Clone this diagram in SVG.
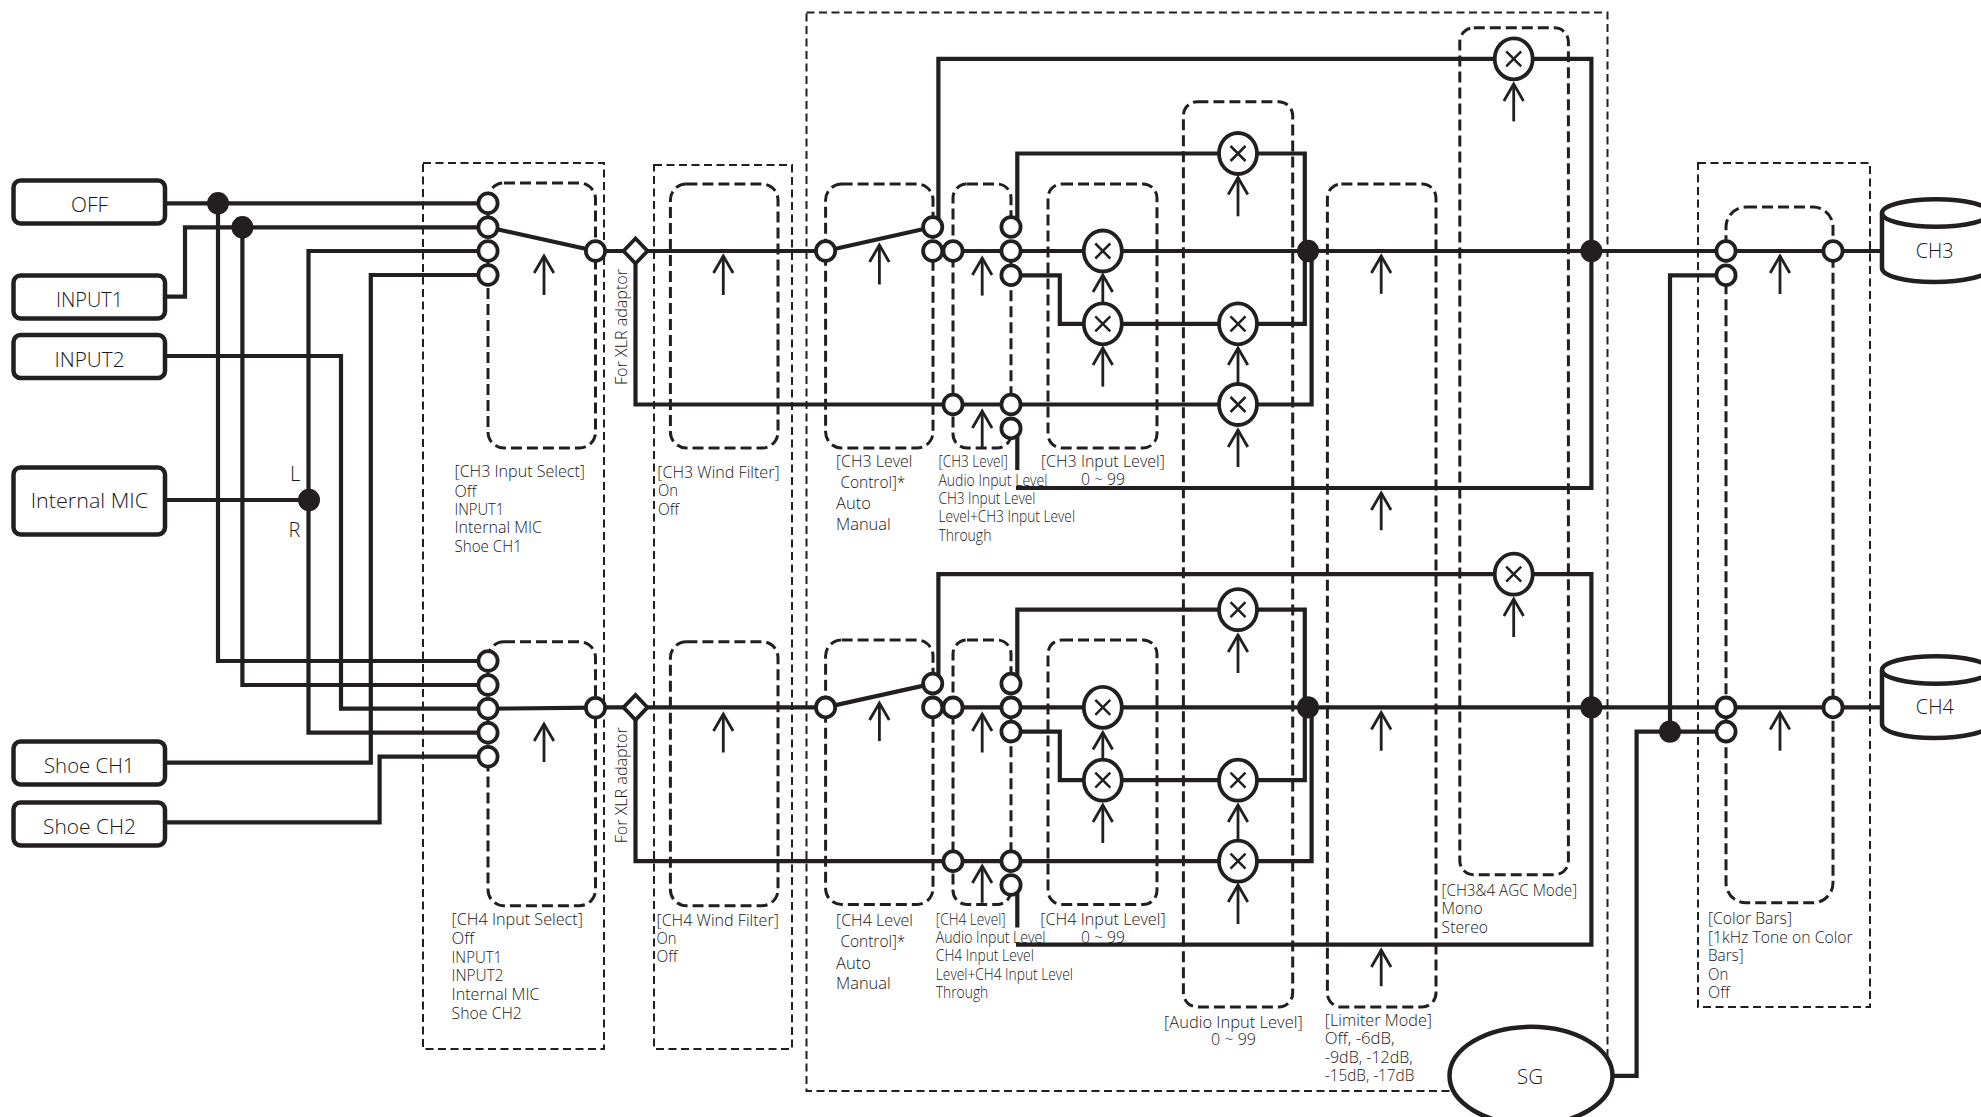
<svg xmlns="http://www.w3.org/2000/svg" xmlns:xlink="http://www.w3.org/1999/xlink" width="1981" height="1117" viewBox="0 0 1981 1117">
<style>
text{font-family:"Open Sans","Noto Sans","Liberation Sans",sans-serif;fill:#1a1718;font-weight:350}
.t{font-size:16px}.s{font-size:16px}.n{font-size:21px}.lr{font-size:20px}
.box{fill:#fff;stroke:#231f20;stroke-width:4.5}
.o{fill:none;stroke:#231f20;stroke-width:2;stroke-dasharray:8 4.5}
.i{fill:none;stroke:#231f20;stroke-width:3;stroke-dasharray:11 5}
.w{fill:none;stroke:#231f20;stroke-width:4.2;stroke-linejoin:miter}
.a{fill:none;stroke:#231f20;stroke-width:2.8;marker-end:url(#ah)}
.c{fill:#fff;stroke:#231f20;stroke-width:3.8}
.x{fill:none;stroke:#231f20;stroke-width:2.5}
.j{fill:#231f20}
</style>
<defs>
<marker id="ah" markerUnits="userSpaceOnUse" markerWidth="24" markerHeight="26" refX="20" refY="13" orient="auto"><path d="M3 3.2L20 13L3 22.800" fill="none" stroke="#231f20" stroke-width="2.8"/></marker>
<g id="mul"><ellipse class="c" rx="19" ry="20.500"/><path class="x" d="M-7.500-7.500L7.500 7.500M7.500-7.500L-7.500 7.500"/></g>
<ellipse id="pt" class="c" rx="9.600" ry="9.900"/>
<ellipse id="jn" class="j" rx="11" ry="11.200"/>
</defs>
<g id="frames">
<rect class="o" x="423" y="163" width="181" height="886"/>
<rect class="o" x="654" y="165" width="138" height="884"/>
<rect class="o" x="806.500" y="12.500" width="801" height="1078.500"/>
<rect class="o" x="1698" y="163" width="172" height="844"/>
<rect class="i" x="488" y="183" width="107.500" height="265" rx="16"/>
<rect class="i" x="488" y="641.700" width="107.500" height="264" rx="16"/>
<rect class="i" x="670.400" y="184" width="107.600" height="264" rx="16"/>
<rect class="i" x="670.400" y="641.700" width="107.600" height="264" rx="16"/>
<rect class="i" x="825.600" y="184" width="107.400" height="264" rx="16"/>
<rect class="i" x="825.600" y="640" width="107.400" height="264.500" rx="16"/>
<rect class="i" x="953" y="184" width="58" height="264" rx="14"/>
<rect class="i" x="953" y="640" width="58" height="264.500" rx="14"/>
<rect class="i" x="1048" y="184" width="109" height="264" rx="14"/>
<rect class="i" x="1048" y="640" width="109" height="264.500" rx="14"/>
<rect class="i" x="1183.400" y="101.700" width="109.300" height="905.200" rx="14"/>
<rect class="i" x="1327.400" y="184" width="108.600" height="823" rx="14"/>
<rect class="i" x="1459.800" y="27.800" width="108.600" height="847" rx="14"/>
<rect class="i" x="1726" y="207" width="107" height="695.800" rx="20"/>
</g>
<g id="connectors">
<path class="w" d="M165 203.300H488M218 203.300V661H488"/>
<path class="w" d="M165 296.700H185V227.300H488M242.400 227.300V685H488"/>
<path class="w" d="M165 500H309M488 251H308.500V732.700H488"/>
<path class="w" d="M165 356H341V708.700H488"/>
<path class="w" d="M165 762.700H370.800V275H488"/>
<path class="w" d="M165 822.300H379.600V756.700H488"/>
<path class="w" d="M488 227.300L595.500 251M488 708.700L595.500 707.700"/>
<path class="w" d="M595.500 251H825.600L932.700 227M953 251H1882"/>
<path class="w" d="M635.500 251V404.500H1311.600V251"/>
<path class="w" d="M1011 227H1017.300V153.500H1304.800V323.800H1059.800V275.300H1011"/>
<path class="w" d="M932.700 227H938.400V58.900H1591.400V488H1016"/>
<path class="w" d="M1011 428.400H1017.300V470"/>
<path class="w" d="M595.500 707.400H825.600L932.700 683.600M953 707.400H1882"/>
<path class="w" d="M635.500 707.400V861.200H1311.600V707.400"/>
<path class="w" d="M1011 683.600H1017.300V609.700H1304.800V780.200H1059.800V731.600H1011"/>
<path class="w" d="M932.700 683.600H938.400V574.200H1591.400V944.700H1016"/>
<path class="w" d="M1011 885H1017.300V927.600"/>
<path class="w" d="M1726 275.300H1670V731.600M1610 1075.800H1636.600V731.600H1726"/>
<g id="controls">
<path class="a" d="M544 295V256"/><path class="a" d="M544 762V724"/>
<path class="a" d="M723.300 295V256"/><path class="a" d="M723.300 752.500V714"/>
<path class="a" d="M879.400 284.500V245"/><path class="a" d="M879.400 741V703"/>
<path class="a" d="M982.200 295.600V258"/><path class="a" d="M982.200 447.700V411"/>
<path class="a" d="M982.200 752.500V714"/><path class="a" d="M982.200 902.800V866"/>
<path class="a" d="M1102.800 304V275"/><path class="a" d="M1102.800 386.600V348"/>
<path class="a" d="M1102.800 760V732.500"/><path class="a" d="M1102.800 843V805"/>
<path class="a" d="M1238 216.300V177.500"/><path class="a" d="M1238 384V348"/><path class="a" d="M1238 467V430"/>
<path class="a" d="M1238 673V635"/><path class="a" d="M1238 841V805"/><path class="a" d="M1238 924V885"/>
<path class="a" d="M1381.200 293.800V256"/><path class="a" d="M1381.200 530.200V493"/>
<path class="a" d="M1381.200 750.700V712.500"/><path class="a" d="M1381.200 986.200V950"/>
<path class="a" d="M1513.700 121.400V84"/><path class="a" d="M1513.700 637V599"/>
<path class="a" d="M1780 294V256"/><path class="a" d="M1780 750.700V712.500"/>
</g>
</g>
<g id="node-off"><rect class="box" x="13.500" y="180.500" width="151.500" height="43" rx="7"/><text class="n" x="71" y="211.700" textLength="37" lengthAdjust="spacingAndGlyphs">OFF</text></g>
<g id="node-input1"><rect class="box" x="13.500" y="275.500" width="151.500" height="43" rx="7"/><text class="n" x="56" y="306.700" textLength="67" lengthAdjust="spacingAndGlyphs">INPUT1</text></g>
<g id="node-input2"><rect class="box" x="13.500" y="335" width="151.500" height="43" rx="7"/><text class="n" x="54.500" y="366.700" textLength="70" lengthAdjust="spacingAndGlyphs">INPUT2</text></g>
<g id="node-mic"><rect class="box" x="13.500" y="467.500" width="151.500" height="67" rx="7"/><text class="n" x="30.700" y="507.700" textLength="117.400" lengthAdjust="spacingAndGlyphs">Internal MIC</text></g>
<g id="node-shoe1"><rect class="box" x="13.500" y="741.500" width="151.500" height="43" rx="7"/><text class="n" x="44" y="772.700" textLength="90.500" lengthAdjust="spacingAndGlyphs">Shoe CH1</text></g>
<g id="node-shoe2"><rect class="box" x="13.500" y="802.500" width="151.500" height="43" rx="7"/><text class="n" x="43" y="834" textLength="93" lengthAdjust="spacingAndGlyphs">Shoe CH2</text></g>
<g id="node-ch3"><path class="box" d="M1882 213V268C1882 276 1905 282 1934 282S1990 276 1990 268V213"/><ellipse class="box" cx="1936" cy="213" rx="54" ry="13.800"/><text class="n" x="1915.800" y="257.800" textLength="37.800" lengthAdjust="spacingAndGlyphs">CH3</text></g>
<g id="node-ch4"><path class="box" d="M1882 670V724C1882 732 1905 738 1934 738S1990 732 1990 724V670"/><ellipse class="box" cx="1936" cy="670" rx="54" ry="13.800"/><text class="n" x="1915.800" y="713.800" textLength="38" lengthAdjust="spacingAndGlyphs">CH4</text></g>
<g id="node-sg"><ellipse class="box" cx="1531" cy="1075.800" rx="81.500" ry="49"/><text class="n" x="1517" y="1084" textLength="26" lengthAdjust="spacingAndGlyphs">SG</text></g>
<g id="node-junctions">
<use href="#jn" x="218" y="203.300"/><use href="#jn" x="242.400" y="227.300"/><use href="#jn" x="309" y="500"/>
<use href="#jn" x="1308" y="251"/><use href="#jn" x="1591.400" y="251"/>
<use href="#jn" x="1308" y="707.400"/><use href="#jn" x="1591.400" y="707.400"/><use href="#jn" x="1670" y="731.600"/>
</g>
<g id="node-switch-points">
<use href="#pt" x="488" y="203.300"/><use href="#pt" x="488" y="227.300"/><use href="#pt" x="488" y="251"/><use href="#pt" x="488" y="275"/><use href="#pt" x="595.500" y="251"/>
<use href="#pt" x="488" y="661"/><use href="#pt" x="488" y="685"/><use href="#pt" x="488" y="708.700"/><use href="#pt" x="488" y="732.700"/><use href="#pt" x="488" y="756.700"/><use href="#pt" x="595.500" y="707.700"/>
<use href="#pt" x="825.600" y="251"/><use href="#pt" x="932.700" y="227"/><use href="#pt" x="932.700" y="251"/><use href="#pt" x="953" y="251"/>
<use href="#pt" x="1011" y="227"/><use href="#pt" x="1011" y="251"/><use href="#pt" x="1011" y="275.300"/><use href="#pt" x="953" y="404.500"/><use href="#pt" x="1011" y="404.500"/><use href="#pt" x="1011" y="428.400"/>
<use href="#pt" x="825.600" y="707.400"/><use href="#pt" x="932.700" y="683.600"/><use href="#pt" x="932.700" y="707.400"/><use href="#pt" x="953" y="707.400"/>
<use href="#pt" x="1011" y="683.600"/><use href="#pt" x="1011" y="707.400"/><use href="#pt" x="1011" y="731.600"/><use href="#pt" x="953" y="861.200"/><use href="#pt" x="1011" y="861.200"/><use href="#pt" x="1011" y="885"/>
<use href="#pt" x="1726" y="251"/><use href="#pt" x="1726" y="275.300"/><use href="#pt" x="1833" y="251"/>
<use href="#pt" x="1726" y="707.400"/><use href="#pt" x="1726" y="731.600"/><use href="#pt" x="1833" y="707.400"/>
<path class="c" transform="translate(635.500 251)" d="M-12 0L0-12.500L12 0L0 12.500Z"/>
<path class="c" transform="translate(635.500 707.400)" d="M-12 0L0-12.500L12 0L0 12.500Z"/>
</g>
<g id="node-multipliers">
<use href="#mul" x="1102.800" y="251"/><use href="#mul" x="1102.800" y="323.800"/><use href="#mul" x="1238" y="153.500"/><use href="#mul" x="1238" y="323.800"/><use href="#mul" x="1238" y="404.500"/><use href="#mul" x="1513.700" y="58.900"/>
<use href="#mul" x="1102.800" y="707.400"/><use href="#mul" x="1102.800" y="780.200"/><use href="#mul" x="1238" y="609.700"/><use href="#mul" x="1238" y="780.200"/><use href="#mul" x="1238" y="861.200"/><use href="#mul" x="1513.700" y="574.200"/>
</g>
<g id="labels">
<text class="lr" x="290" y="480.700">L</text>
<text class="lr" x="288.500" y="537.300">R</text>
<text class="t" transform="translate(627 385) rotate(-90)" textLength="116" lengthAdjust="spacingAndGlyphs">For XLR adaptor</text>
<text class="t" transform="translate(627 843.300) rotate(-90)" textLength="116" lengthAdjust="spacingAndGlyphs">For XLR adaptor</text>
<text class="t" x="454.500" y="477.300" textLength="130.500" lengthAdjust="spacingAndGlyphs">[CH3 Input Select]</text>
<text class="t" x="454.500" y="496.700" textLength="22" lengthAdjust="spacingAndGlyphs">Off</text>
<text class="t" x="454.500" y="515" textLength="49.700" lengthAdjust="spacingAndGlyphs">INPUT1</text>
<text class="t" x="454.500" y="533.300" textLength="87.500" lengthAdjust="spacingAndGlyphs">Internal MIC</text>
<text class="t" x="454.500" y="552.300" textLength="67.300" lengthAdjust="spacingAndGlyphs">Shoe CH1</text>
<text class="t" x="451.600" y="925" textLength="131.300" lengthAdjust="spacingAndGlyphs">[CH4 Input Select]</text>
<text class="t" x="451.600" y="944.300" textLength="22.700" lengthAdjust="spacingAndGlyphs">Off</text>
<text class="t" x="451.600" y="962.700" textLength="50.500" lengthAdjust="spacingAndGlyphs">INPUT1</text>
<text class="t" x="451.600" y="981" textLength="52" lengthAdjust="spacingAndGlyphs">INPUT2</text>
<text class="t" x="451.600" y="1000" textLength="88" lengthAdjust="spacingAndGlyphs">Internal MIC</text>
<text class="t" x="451.600" y="1019.300" textLength="70.300" lengthAdjust="spacingAndGlyphs">Shoe CH2</text>
<text class="t" x="657.300" y="477.700" textLength="122.300" lengthAdjust="spacingAndGlyphs">[CH3 Wind Filter]</text>
<text class="t" x="658" y="496" textLength="20" lengthAdjust="spacingAndGlyphs">On</text>
<text class="t" x="658" y="514.800" textLength="21" lengthAdjust="spacingAndGlyphs">Off</text>
<text class="t" x="656.500" y="925.900" textLength="122.300" lengthAdjust="spacingAndGlyphs">[CH4 Wind Filter]</text>
<text class="t" x="656.500" y="944.300" textLength="20" lengthAdjust="spacingAndGlyphs">On</text>
<text class="t" x="656.500" y="962" textLength="21" lengthAdjust="spacingAndGlyphs">Off</text>
<text class="t" x="836" y="466.600" textLength="76.400" lengthAdjust="spacingAndGlyphs">[CH3 Level</text>
<text class="t" x="840.400" y="488" textLength="65" lengthAdjust="spacingAndGlyphs">Control]*</text>
<text class="t" x="836" y="508.700" textLength="35" lengthAdjust="spacingAndGlyphs">Auto</text>
<text class="t" x="836" y="530" textLength="54.700" lengthAdjust="spacingAndGlyphs">Manual</text>
<text class="t" x="836" y="925.900" textLength="77" lengthAdjust="spacingAndGlyphs">[CH4 Level</text>
<text class="t" x="840.400" y="946.500" textLength="65" lengthAdjust="spacingAndGlyphs">Control]*</text>
<text class="t" x="836" y="968.500" textLength="35" lengthAdjust="spacingAndGlyphs">Auto</text>
<text class="t" x="836" y="989" textLength="54.700" lengthAdjust="spacingAndGlyphs">Manual</text>
<text class="s" x="938.400" y="466.600" textLength="69.400" lengthAdjust="spacingAndGlyphs">[CH3 Level]</text>
<text class="s" x="938.400" y="485.500" textLength="109" lengthAdjust="spacingAndGlyphs">Audio Input Level</text>
<text class="s" x="938.400" y="504" textLength="97" lengthAdjust="spacingAndGlyphs">CH3 Input Level</text>
<text class="s" x="938.400" y="522.300" textLength="136.600" lengthAdjust="spacingAndGlyphs">Level+CH3 Input Level</text>
<text class="s" x="938.400" y="541" textLength="53" lengthAdjust="spacingAndGlyphs">Through</text>
<text class="s" x="935.800" y="924.800" textLength="69.800" lengthAdjust="spacingAndGlyphs">[CH4 Level]</text>
<text class="s" x="935.800" y="942.500" textLength="109.700" lengthAdjust="spacingAndGlyphs">Audio Input Level</text>
<text class="s" x="935.800" y="961.400" textLength="98" lengthAdjust="spacingAndGlyphs">CH4 Input Level</text>
<text class="s" x="935.800" y="980.200" textLength="137" lengthAdjust="spacingAndGlyphs">Level+CH4 Input Level</text>
<text class="s" x="935.800" y="998.300" textLength="52.500" lengthAdjust="spacingAndGlyphs">Through</text>
<text class="t" x="1041" y="466.600" textLength="123.800" lengthAdjust="spacingAndGlyphs">[CH3 Input Level]</text>
<text class="t" x="1081" y="485" textLength="44" lengthAdjust="spacingAndGlyphs">0 ~ 99</text>
<text class="t" x="1040.300" y="924.800" textLength="125.300" lengthAdjust="spacingAndGlyphs">[CH4 Input Level]</text>
<text class="t" x="1081" y="942.500" textLength="44" lengthAdjust="spacingAndGlyphs">0 ~ 99</text>
<text class="t" x="1164" y="1027.800" textLength="138.700" lengthAdjust="spacingAndGlyphs">[Audio Input Level]</text>
<text class="t" x="1211" y="1044.900" textLength="45" lengthAdjust="spacingAndGlyphs">0 ~ 99</text>
<text class="t" x="1324.800" y="1026" textLength="107.200" lengthAdjust="spacingAndGlyphs">[Limiter Mode]</text>
<text class="t" x="1324.800" y="1044" textLength="69.900" lengthAdjust="spacingAndGlyphs">Off, -6dB,</text>
<text class="t" x="1324.800" y="1062.600" textLength="88" lengthAdjust="spacingAndGlyphs">-9dB, -12dB,</text>
<text class="t" x="1324.800" y="1081" textLength="89.500" lengthAdjust="spacingAndGlyphs">-15dB, -17dB</text>
<text class="t" x="1441.600" y="895.700" textLength="135.400" lengthAdjust="spacingAndGlyphs">[CH3&amp;4 AGC Mode]</text>
<text class="t" x="1441.600" y="914" textLength="41" lengthAdjust="spacingAndGlyphs">Mono</text>
<text class="t" x="1441.600" y="933" textLength="46.500" lengthAdjust="spacingAndGlyphs">Stereo</text>
<text class="t" x="1708" y="924.400" textLength="84" lengthAdjust="spacingAndGlyphs">[Color Bars]</text>
<text class="t" x="1708" y="942.500" textLength="144.700" lengthAdjust="spacingAndGlyphs">[1kHz Tone on Color</text>
<text class="t" x="1708" y="961.400" textLength="35.600" lengthAdjust="spacingAndGlyphs">Bars]</text>
<text class="t" x="1708" y="980.200" textLength="20.400" lengthAdjust="spacingAndGlyphs">On</text>
<text class="t" x="1708" y="998.300" textLength="21.700" lengthAdjust="spacingAndGlyphs">Off</text>
</g>
</svg>
